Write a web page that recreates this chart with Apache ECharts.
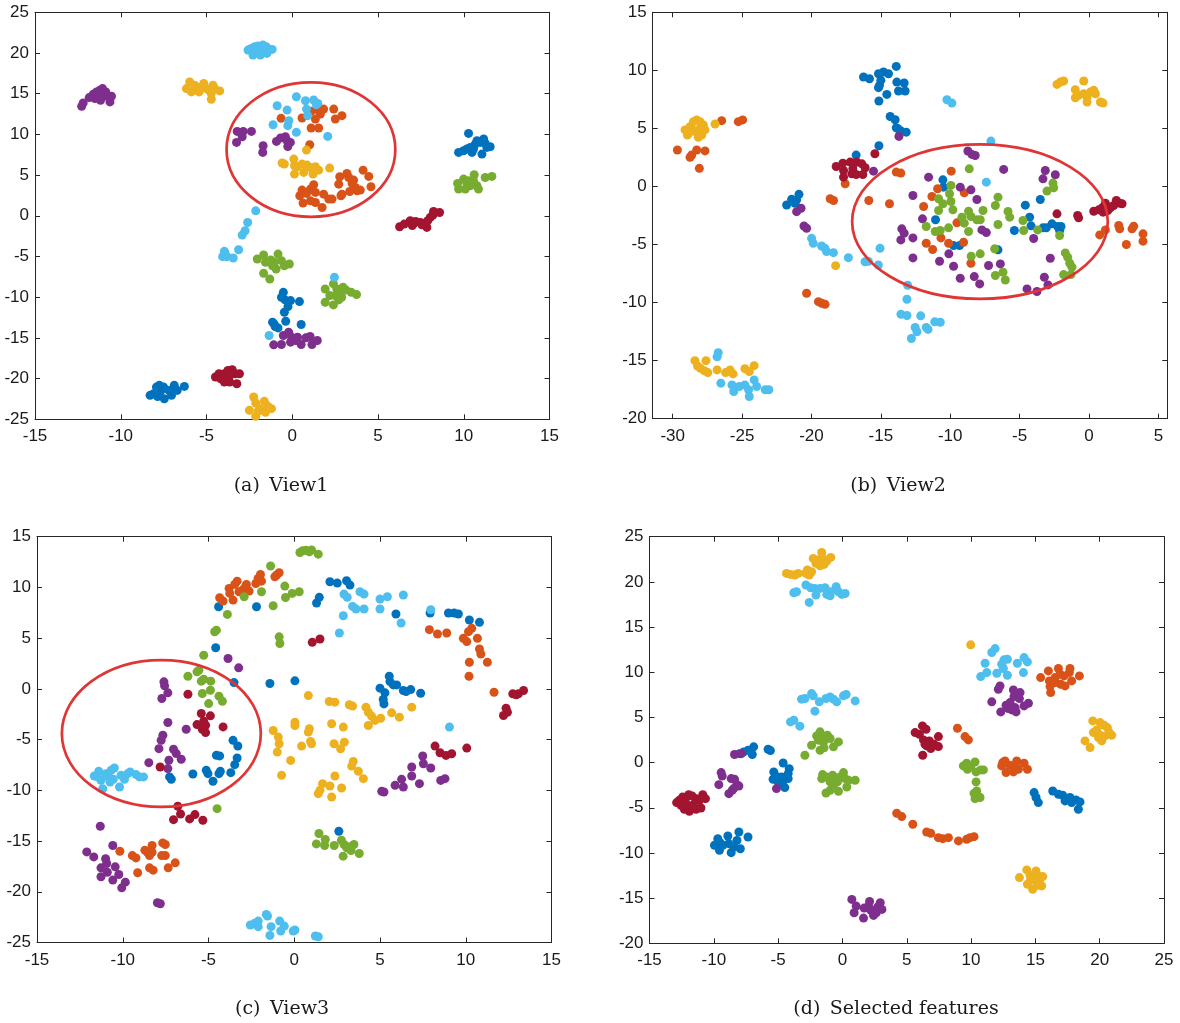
<!DOCTYPE html>
<html>
<head>
<meta charset="utf-8">
<title>t-SNE views</title>
<script src="https://cdn.jsdelivr.net/npm/echarts@6/dist/echarts.min.js"></script>
<style>
  html, body { margin: 0; padding: 0; background: #ffffff; }
  #chart { width: 1180px; height: 1023px; }
</style>
</head>
<body>
<div id="chart"></div>
<script>
// ---- View1 embedding, one array per class ----
const view1Blue = [[10.28,10.12],[9.7,7.79],[9.99,7.99],[10.18,8.2],[10.38,8.4],[10.57,8.2],[10.67,8.81],[10.77,9.22],[10.96,9.02],[11.16,9.43],[11.25,8.89],[11.35,8.4],[11.54,8.48],[11.06,7.58],[10.48,7.79],
  [-0.52,-9.4],[-0.63,-10.01],[-0.42,-10.33],[-0.1,-10.42],[-0.25,-11.15],[-0.46,-11.85],[-0.38,-12.95],[0.42,-10.54],[-1.15,-13.07],[-1.0,-13.6],[-0.83,-13.77],[0.52,-13.36],[-1.05,-13.3],
  [-8.29,-22.06],[-8.08,-21.85],[-7.92,-21.04],[-7.75,-20.83],[-7.5,-21.04],[-7.46,-22.47],[-7.19,-21.45],[-7.04,-22.06],[-6.88,-20.83],[-6.71,-21.45],[-6.29,-20.96],[-7.67,-21.53],[-7.85,-22.2]];
const view1Orange = [[-0.65,11.97],[0.57,12.01],[1.1,12.83],[1.54,12.91],[1.83,13.11],[2.42,13.11],[2.51,11.89],[2.9,12.3],[1.35,11.89],[1.1,10.78],[1.54,10.78],[1.02,8.73],[1.64,12.5],
  [0.44,2.46],[0.57,3.16],[0.83,2.75],[1.06,3.28],[1.25,3.81],[1.35,2.87],[0.63,1.56],[1.06,1.84],[1.35,1.64],[1.74,1.02],[1.83,2.66],[2.13,2.05],[2.32,2.05],[2.77,4.8],[2.71,3.89],[2.9,2.66],[3.19,5.2],[3.29,4.71],[3.49,3.98],[3.58,4.39],[3.68,3.48],[3.78,3.07],[3.97,3.16],[4.13,5.61],[4.46,4.84],[4.59,3.57],[3.35,2.99],[2.84,2.46]];
const view1Yellow = [[-6.17,15.63],[-5.98,16.45],[-5.69,16.04],[-5.59,15.43],[-5.4,15.76],[-5.16,16.25],[-5.01,15.63],[-4.85,15.43],[-4.72,15.02],[-4.62,16.04],[-4.52,15.63],[-4.23,15.34],[-4.72,14.32],[-5.43,15.22],[-5.88,15.22],
  [-0.59,6.48],[-0.46,6.35],[0.09,6.97],[0.13,6.15],[0.28,6.02],[0.57,6.35],[0.86,6.23],[1.06,5.94],[1.35,6.02],[1.54,5.61],[0.67,5.33],[0.13,5.12],[1.21,5.12],[2.18,5.86],[0.83,8.07],
  [-2.25,-22.26],[-2.5,-23.9],[-2.13,-23.0],[-1.88,-23.69],[-1.63,-22.79],[-1.42,-23.41],[-1.21,-23.69],[-1.56,-24.14],[-2.13,-24.63],[-1.98,-23.98]];
const view1Purple = [[-12.28,13.45],[-12.19,13.87],[-11.84,14.52],[-11.6,14.93],[-11.41,15.22],[-11.22,15.43],[-11.06,15.63],[-11.26,14.81],[-11.18,14.19],[-10.93,14.81],[-10.73,14.61],[-10.54,14.69],[-10.63,13.99],[-10.87,15.22],[-11.51,14.4],
  [-3.21,10.37],[-2.86,10.37],[-2.38,10.37],[-3.25,9.02],[-2.92,9.71],[-1.7,8.61],[-1.72,7.79],[-0.92,9.14],[-0.69,9.55],[-0.4,9.71],[-0.3,9.22],[-0.26,8.52],[-0.11,9.02],
  [-1.08,-15.85],[-0.63,-15.81],[-0.52,-14.71],[-0.21,-14.3],[-0.04,-14.91],[0.21,-15.32],[0.31,-14.91],[0.52,-15.81],[0.79,-14.99],[1.04,-14.83],[1.15,-15.81],[1.46,-15.32],[-0.1,-15.52]];
const view1Green = [[9.64,3.98],[9.7,3.28],[9.99,4.51],[10.18,3.98],[10.38,3.69],[10.61,5.04],[10.57,4.3],[10.77,3.69],[10.86,3.28],[11.25,4.71],[11.64,4.84],[10.09,3.28],[10.28,4.3],
  [-2.04,-5.31],[-1.67,-4.82],[-1.56,-5.72],[-1.25,-5.43],[-1.04,-5.72],[-0.83,-4.7],[-0.63,-5.51],[-0.46,-6.13],[-0.17,-5.92],[-0.94,-6.54],[-1.67,-7.07],[-1.31,-7.76],[-1.15,-6.13],
  [1.92,-8.99],[2.4,-8.37],[2.6,-8.99],[2.81,-9.4],[2.96,-8.78],[3.13,-9.11],[2.88,-10.01],[2.19,-9.8],[2.5,-9.8],[1.92,-10.62],[2.4,-10.95],[3.44,-9.4],[3.75,-9.68],[2.71,-10.33]];
const view1Cyan = [[-2.58,20.36],[-2.39,20.56],[-2.19,20.77],[-2.0,20.85],[-1.71,20.97],[-1.52,20.77],[-1.32,20.44],[-1.17,20.44],[-2.29,19.74],[-1.86,19.74],[-1.81,20.36],[-1.48,19.95],[-2.1,20.28],
  [-0.88,13.52],[0.24,14.63],[0.77,14.14],[1.25,14.22],[1.49,13.81],[0.83,13.11],[0.9,12.3],[-0.3,12.99],[-0.2,11.68],[-0.26,11.07],[-1.12,11.19],[0.24,10.25],[2.07,9.75],[1.41,13.65],
  [-2.13,0.61],[-2.6,-0.82],[-2.75,-1.84],[-2.92,-2.37],[-3.92,-4.62],[-4.06,-5.02],[-3.81,-5.02],[-3.44,-5.19],[-3.13,-4.17],[-3.96,-4.37],
  [2.46,-7.56],[-1.35,-14.71]];
const view1DarkRed = [[6.26,-1.35],[6.53,-1.02],[6.88,-0.61],[7.08,-0.94],[7.47,-0.82],[7.85,-1.43],[8.05,-0.2],[8.24,0.53],[8.59,0.41],[7.56,-1.11],[7.0,-1.2],[7.2,-0.7],[7.9,-0.6],[8.2,0.1],[7.7,-0.9],
  [-4.48,-19.81],[-4.27,-19.4],[-3.96,-19.4],[-3.75,-18.99],[-3.5,-18.91],[-3.33,-19.4],[-3.08,-19.4],[-3.23,-20.63],[-3.65,-20.42],[-3.96,-20.42],[-3.69,-19.81],[-4.17,-20.02]];

// ---- View2 embedding ----
const view2Blue = [[-16.25,9.43],[-15.82,9.28],[-15.17,9.71],[-14.81,9.86],[-14.45,9.71],[-13.89,10.34],[-15.0,9.14],[-15.1,8.71],[-15.17,8.51],[-14.57,7.93],[-15.14,7.36],[-13.85,8.99],[-13.32,8.91],[-13.73,8.22],[-13.25,8.22],[-14.33,6.03],[-13.97,5.75],[-13.89,5.06],[-13.61,4.83],[-13.17,4.68],[-13.8,5.0],[-15.14,3.51],[-16.78,2.7],
  [-21.79,-1.6],[-21.43,-1.11],[-21.07,-1.16],[-20.9,-0.68],[-21.19,-1.45],
  [-10.53,0.57],[-10.48,-0.06],[-11.06,-2.87],[-9.76,-5.09],[-9.33,-5.09],[-6.56,-5.46],[-5.38,-3.79],[-4.59,-1.61],[-4.28,-2.64],[-4.18,-3.39],[-3.51,-1.12],[-3.32,-3.56],[-2.67,-3.22],[-3.08,-3.56],[-2.26,-3.45],[-2.02,-3.45],[-2.12,-3.79]];
const view2Orange = [[-29.66,3.14],[-28.63,2.71],[-28.27,3.14],[-27.67,3.06],[-28.08,1.56],[-26.47,5.67],[-25.27,5.58],[-24.96,5.73],[-28.75,2.51],
  [-17.57,0.23],[-13.89,1.24],[-13.56,1.15],[-18.65,-1.06],[-18.41,-1.21],[-15.87,-1.21],[-14.38,-1.49],
  [-20.35,-9.2],[-19.5,-9.92],[-19.26,-10.06],[-19.02,-10.15],
  [-9.93,1.32],[-10.91,-0.2],[-11.32,-0.86],[-8.99,-0.55],[-11.92,-1.72],[-9.52,-3.13],[-10.67,-4.43],[-10.12,-4.89],[-9.04,-4.8],[-11.73,-4.89],[-11.27,-5.43],[-8.51,-6.61],
  [0.77,-4.17],[1.18,-3.74],[2.14,-3.36],[2.21,-3.65],[3.22,-3.42],[3.1,-3.65],[2.69,-5.0],[3.89,-4.08],[3.89,-4.71]];
const view2Yellow = [[-29.11,4.87],[-28.94,4.43],[-28.75,5.15],[-28.51,5.58],[-28.27,5.73],[-28.03,5.58],[-27.79,5.3],[-27.67,4.87],[-27.91,4.43],[-28.15,4.23],[-28.39,4.72],[-28.63,5.0],[-28.87,4.58],[-26.95,5.38],[-28.03,5.0],
  [-2.31,8.79],[-2.07,8.99],[-1.83,9.08],[-0.38,9.08],[-0.99,8.33],[-0.75,7.84],[-0.99,7.64],[-0.38,7.99],[-0.14,7.7],[0.1,8.13],[0.34,8.28],[0.46,7.99],[-0.14,7.27],[0.82,7.27],[1.01,7.18],
  [-18.26,-6.82],
  [-28.4,-15.0],[-28.21,-15.46],[-28.0,-15.66],[-27.6,-15.0],[-27.73,-15.86],[-27.47,-16.03],[-26.8,-15.8],[-26.19,-16.03],[-25.87,-15.8],[-25.65,-16.14],[-24.8,-15.69],[-24.48,-15.94],[-24.13,-15.43]];
const view2Purple = [[-13.7,4.31],[-15.53,1.32],[-21.07,-2.17],[-20.75,-1.88],[-20.54,-3.4],[-20.35,-3.6],
  [-8.73,3.05],[-8.44,2.76],[-8.2,2.67],[-6.15,1.47],[-11.56,0.8],[-12.69,-0.78],[-12.0,-2.79],[-13.49,-3.65],[-13.32,-4.02],[-13.56,-4.6],[-12.69,-4.43],[-9.28,-0.06],[-8.51,-0.29],[-8.08,-1.12],[-7.72,-3.74],[-7.4,-3.97],[-12.69,-6.15],[-10.77,-6.44],[-10.1,-5.8],[-9.76,-6.87],[-9.28,-7.9],[-8.27,-7.76],[-7.88,-8.39],[-7.24,-6.81],[-6.39,-6.67],[-4.47,-8.82],[-3.75,-9.05],[-3.22,-7.82],[-2.79,-6.18],[-3.15,1.38],[-3.32,0.66],[-2.43,1.01],[-3.99,-4.48],[-2.96,-8.48]];
const view2Green = [[-8.63,1.52],[-9.95,0.09],[-10.05,-0.63],[-10.84,-1.06],[-10.53,-1.49],[-9.95,-1.29],[-9.81,-2.01],[-10.84,-2.07],[-11.73,-3.45],[-10.12,-3.56],[-11.08,-3.88],[-10.72,-3.79],[-9.16,-2.64],[-8.99,-3.16],[-8.68,-2.13],[-8.51,-2.59],[-8.08,-2.87],[-7.84,-2.87],[-7.64,-2.07],[-8.68,-3.88],[-6.75,-1.64],[-6.56,-0.92],[-5.84,-2.16],[-5.72,-2.64],[-6.56,-3.28],[-6.8,-5.37],[-7.84,-5.8],[-8.49,-6.01],[-6.75,-7.67],[-6.2,-7.39],[-6.03,-8.05],[-4.76,-2.93],[-4.71,-3.79],[-3.7,-3.74],[-3.03,-0.4],[-2.55,-0.11],[-2.6,0.29],[-2.12,-4.22],[-1.71,-5.72],[-1.54,-6.09],[-1.39,-6.61],[-1.23,-6.95],[-1.83,-7.59],[-1.3,-7.59]];
const view2Cyan = [[-10.24,7.47],[-9.88,7.18],[-7.07,3.91],[-7.4,0.37],
  [-19.99,-4.47],[-19.87,-4.9],[-19.27,-5.13],[-19.03,-5.33],[-18.91,-5.61],[-18.42,-5.7],[-17.34,-6.13],[-16.14,-6.48],[-15.06,-5.33],[-15.18,-6.76],[-15.9,-6.45],
  [-13.07,-8.51],[-13.12,-9.71],[-13.55,-11.0],[-13.12,-11.11],[-12.13,-11.14],[-12.53,-12.14],[-12.4,-12.51],[-12.8,-13.09],[-11.73,-12.14],[-11.6,-12.31],[-11.12,-11.66],[-10.72,-11.69],
  [-26.72,-14.31],[-26.8,-14.66],[-26.53,-16.94],[-25.73,-17.09],[-25.6,-17.66],[-25.2,-17.23],[-24.8,-17.09],[-24.53,-17.51],[-24.48,-18.09],[-24.13,-16.66],[-23.95,-17.23],[-23.33,-17.51],[-23.07,-17.51]];
const view2DarkRed = [[-18.22,1.72],[-17.74,2.01],[-17.69,1.38],[-17.21,2.1],[-16.97,1.95],[-16.73,2.1],[-16.37,1.95],[-16.13,1.61],[-17.02,1.52],[-17.09,1.09],[-17.69,0.8],[-16.3,1.03],[-16.78,1.03],[-15.43,2.82],
  [0.34,-2.13],[0.7,-2.01],[0.94,-1.84],[1.18,-1.44],[1.35,-2.07],[1.54,-1.84],[1.78,-1.64],[1.97,-1.21],[2.21,-1.44],[2.38,-1.49],[1.01,-2.21],[-2.31,-2.36],[-0.82,-2.5],[-0.75,-2.7]];

// ---- View3 embedding ----
const view3Blue = [[-4.41,8.09],[-2.2,8.09],[-4.58,4.05],[-3.51,0.62],[-1.42,0.53],[0.04,0.79],
  [-3.57,-5.07],[-3.29,-5.63],[-4.54,-6.55],[-4.35,-6.61],[-3.33,-6.81],[-3.47,-7.47],[-3.7,-8.26],[-4.31,-8.13],[-4.39,-8.36],[-5.13,-8.03],[-5.03,-8.36],[-5.91,-8.39],[-4.74,-9.11],[-7.27,-8.68],[-7.17,-8.91],
  [1.3,8.46],[1.46,9.02],[2.08,10.56],[2.51,10.43],[3.05,10.66],[3.25,10.23],[5.93,7.38],[7.92,7.48],[8.99,7.48],[9.32,7.48],[9.57,7.38],[10.21,6.79],[10.8,6.56],
  [5.0,0.07],[5.54,1.25],[5.58,0.72],[5.78,0.39],[5.97,0.39],[6.36,-0.16],[6.52,-0.26],[6.79,-0.07],[7.37,-0.43],[5.29,-0.39],[5.19,-1.05],[5.23,-1.48],
  [2.6,-14.03]];
const view3Orange = [[-4.35,8.98],[-4.15,8.65],[-3.8,9.9],[-3.76,9.41],[-3.57,8.75],[-3.47,10.3],[-3.33,10.62],[-3.22,9.57],[-3.02,9.74],[-2.88,9.97],[-2.79,10.3],[-2.63,9.64],[-2.24,10.39],[-2.11,10.89],[-1.97,11.28],[-1.91,10.62],[-1.13,11.05],[-0.88,11.45],[-1.03,11.22],
  [7.88,5.84],[8.35,5.41],[8.89,5.51],[9.86,4.98],[10.06,4.66],[10.16,5.64],[10.35,5.97],[10.68,4.98],[10.8,3.93],[10.88,3.44],[11.26,2.62],[10.21,2.62],[10.19,1.25],[11.65,-0.33],
  [-10.17,-16.0],[-9.44,-16.43],[-9.23,-16.66],[-9.13,-18.13],[-8.71,-15.9],[-8.56,-16.1],[-8.44,-16.43],[-8.29,-16.1],[-8.29,-15.44],[-8.44,-17.64],[-8.23,-17.87],[-7.73,-16.43],[-7.52,-16.43],[-7.52,-15.34],[-7.67,-15.18],[-7.35,-17.64],[-6.94,-17.15]];
const view3Yellow = [[0.82,-0.66],[2.04,-1.25],[2.37,-1.31],[3.21,-1.57],[3.4,-1.7],[4.18,-1.8],[4.32,-2.3],[4.51,-2.69],[4.71,-3.11],[5.04,-2.89],[5.68,-2.36],[6.13,-2.79],[6.85,-1.8],[4.32,-3.61],[0.04,-3.28],[0.04,-3.61],[-1.23,-4.1],[-0.93,-4.75],[-0.88,-5.41],[-0.99,-6.23],[-0.21,-7.05],[-0.74,-8.52],[0.43,-5.64],[0.88,-3.93],[0.82,-4.26],[0.95,-5.18],[1.01,-5.41],[2.18,-3.44],[2.86,-3.77],[2.32,-5.41],[2.7,-5.9],[2.92,-5.25],[3.44,-7.15],[3.35,-7.61],[3.74,-8.13],[4.03,-8.85],[2.37,-8.59],[2.08,-9.57],[2.76,-9.77],[1.65,-9.34],[1.5,-10.0],[1.4,-10.33],[2.18,-10.66]];
const view3Purple = [[-7.6,0.69],[-7.56,0.3],[-7.37,-0.39],[-7.72,-0.95],[-7.37,-3.32],[-6.3,-3.98],[-7.66,-4.57],[-7.76,-5.07],[-7.89,-5.89],[-7.04,-5.95],[-6.88,-6.38],[-6.59,-6.94],[-7.31,-7.04],[-7.37,-7.86],[-8.48,-7.27],[-3.86,2.99],[-3.24,2.07],
  [5.1,-10.1],[5.23,-10.16],[5.88,-9.51],[6.26,-8.92],[6.36,-9.67],[6.85,-7.7],[6.85,-8.59],[7.3,-9.34],[7.49,-6.62],[7.53,-7.38],[7.96,-7.8],[8.54,-9.02],[8.79,-8.85],
  [-11.31,-13.54],[-12.1,-16.07],[-11.69,-16.56],[-11.27,-17.64],[-11.27,-18.52],[-11.0,-16.75],[-10.94,-17.21],[-10.9,-18.07],[-10.58,-15.44],[-10.44,-17.54],[-10.58,-18.85],[-10.23,-18.3],[-10.06,-19.61],[-9.85,-19.05],[-7.98,-21.08],[-7.81,-21.18]];
const view3Green = [[-2.92,9.08],[-1.91,9.57],[-1.38,12.11],[-1.23,8.19],[-0.55,10.13],[-0.51,9.01],[-0.12,9.41],[0.29,9.57],[-3.9,7.34],[-4.64,5.63],[-4.54,5.79],[-0.88,5.13],[-0.84,4.47],[-5.28,3.32],[-5.67,1.68],[-5.56,1.84],[-6.2,1.25],[-5.42,0.76],[-5.28,0.95],[-4.87,0.76],[-5.36,-0.46],[-4.89,-0.13],[-4.39,-0.72],[-4.19,-1.22],[-4.99,-1.45],[-4.5,-11.81],
  [0.33,13.44],[0.49,13.61],[0.68,13.67],[0.88,13.51],[1.01,13.7],[1.4,13.28],
  [1.44,-14.26],[1.29,-15.28],[1.81,-14.85],[1.77,-15.44],[2.33,-15.44],[2.75,-14.92],[2.9,-15.34],[3.06,-15.67],[3.31,-15.93],[3.48,-15.34],[2.85,-16.49],[3.79,-16.23],[3.17,-15.57]];
const view3Cyan = [[-11.66,-8.59],[-11.4,-8.13],[-11.27,-9.01],[-10.97,-8.36],[-10.78,-8.78],[-10.68,-8.03],[-10.49,-7.8],[-10.74,-9.18],[-10.55,-8.91],[-10.19,-9.67],[-10.1,-8.52],[-9.9,-8.91],[-9.71,-8.36],[-9.57,-8.19],[-9.22,-8.45],[-9.03,-8.68],[-8.79,-8.68],[-11.17,-9.84],[-11.46,-8.68],
  [2.9,9.34],[3.09,9.02],[3.83,9.57],[4.07,9.34],[3.4,8.13],[3.6,7.87],[4.07,7.87],[2.86,7.21],[2.63,5.51],[5.0,8.85],[5.43,9.08],[6.36,9.25],[5.0,7.87],[6.23,6.49],[7.96,7.8],
  [9.05,-3.77],
  [-2.56,-23.28],[-2.31,-23.11],[-2.1,-22.89],[-2.1,-23.44],[-1.63,-22.23],[-1.56,-22.39],[-1.35,-23.44],[-1.42,-24.3],[-0.85,-22.89],[-0.79,-23.87],[-0.58,-23.38],[-0.06,-23.87],[0.04,-23.77],[1.23,-24.36],[1.4,-24.43]];
const view3DarkRed = [[-6.2,-0.53],[-5.42,-2.43],[-4.89,-2.66],[-5.67,-3.52],[-5.28,-3.19],[-5.17,-3.59],[-5.36,-3.98],[-5.17,-4.31],[-4.15,-3.75],[-7.82,-7.7],
  [-6.79,-11.57],[-6.63,-12.33],[-7.04,-12.89],[-6.1,-12.82],[-5.79,-12.39],[-5.33,-12.95],
  [1.05,4.59],[1.5,4.92],
  [12.74,-0.49],[12.94,-0.59],[13.07,-0.49],[13.37,-0.16],[12.35,-1.9],[12.2,-2.62],[12.43,-2.3],
  [8.21,-5.64],[8.5,-6.3],[8.85,-6.56],[9.18,-6.39],[10.06,-5.84]];

// ---- Selected-feature embedding ----
const selBlue = [[-8.0,0.99],[-7.68,1.18],[-7.34,1.37],[-6.9,1.74],[-7.01,0.89],[-5.78,1.48],[-5.6,1.33],[-4.61,-0.04],[-4.14,-0.67],[-5.34,-1.03],[-5.18,-1.48],[-5.39,-1.85],[-5.0,-2.14],[-4.66,-2.33],[-4.48,-2.77],[-4.22,-1.77],[-4.74,-1.59],[-4.22,-1.22],
  [-9.95,-9.16],[-9.69,-8.42],[-9.56,-9.71],[-9.3,-9.16],[-8.91,-8.12],[-8.83,-8.97],[-8.65,-9.97],[-8.46,-9.34],[-8.2,-8.61],[-8.05,-7.68],[-7.94,-9.53],[-7.34,-8.23],[-9.51,-8.86],
  [14.9,-3.32],[15.05,-3.87],[15.23,-4.43],[16.35,-3.14],[16.79,-3.51],[17.12,-3.62],[17.31,-4.24],[17.69,-3.87],[17.82,-4.43],[18.16,-4.13],[18.47,-4.35],[18.34,-5.17]];
const selOrange = [[15.41,9.41],[16.01,10.15],[16.09,9.04],[16.14,8.41],[16.19,7.75],[16.53,9.41],[16.79,10.41],[16.92,9.78],[16.97,8.67],[17.23,9.59],[17.31,8.49],[17.64,9.96],[17.69,10.41],[17.82,9.04],[18.42,9.59],[16.53,8.86],
  [8.94,3.8],[9.53,2.88],[9.79,2.51],
  [12.38,-0.37],[12.46,0.0],[12.64,0.18],[12.72,-1.11],[13.03,-0.3],[13.34,-0.44],[13.55,0.18],[13.68,-0.74],[14.12,-0.07],[14.38,-0.74],[13.29,-1.03],
  [4.22,-5.61],[4.61,-5.98],[5.47,-6.83],[6.55,-7.68],[6.87,-7.83],[7.46,-8.31],[7.8,-8.42],[8.24,-8.31],[9.02,-8.67],[9.66,-8.49],[9.92,-8.31],[10.23,-8.2]];
const selYellow = [[-4.35,20.94],[-4.04,20.83],[-3.7,20.75],[-3.44,20.94],[-2.84,20.94],[-2.73,21.31],[-2.58,20.75],[-2.4,21.12],[-2.27,22.6],[-2.06,22.05],[-1.88,22.42],[-1.74,21.79],[-1.61,23.26],[-1.54,22.6],[-1.43,21.93],[-1.22,22.3],[-0.91,22.71],
  [9.97,13.03],
  [18.86,2.4],[19.25,1.66],[19.46,4.61],[19.51,3.32],[19.77,3.62],[19.9,2.77],[20.03,4.43],[20.16,2.4],[20.34,4.13],[20.41,2.95],[20.6,3.87],[20.75,3.32],[20.93,3.03],[20.03,3.03],
  [13.76,-12.73],[14.33,-11.88],[14.59,-12.47],[14.84,-12.99],[15.05,-11.99],[15.23,-12.55],[15.31,-13.21],[15.57,-12.62],[15.49,-13.65],[14.79,-14.02],[14.38,-13.47],[15.16,-13.58],[14.64,-12.92]];
const selPurple = [[-8.39,0.89],[-7.86,0.99],[-9.43,-1.11],[-9.35,-1.48],[-9.61,-2.44],[-8.65,-1.77],[-8.39,-1.85],[-8.2,-2.44],[-8.57,-3.07],[-8.83,-3.44],[-8.46,-2.88],[-8.05,-2.59],[-5.13,-2.88],
  [11.61,6.72],[12.12,8.12],[12.25,8.49],[12.31,5.61],[12.72,6.35],[12.9,5.98],[13.16,5.83],[13.29,8.04],[13.34,7.31],[13.42,6.09],[13.5,5.61],[13.76,7.08],[13.81,7.75],[14.12,6.27],[14.46,6.57],[13.03,6.64],
  [0.73,-15.14],[1.07,-15.88],[0.91,-16.62],[1.64,-17.21],[1.69,-16.1],[2.11,-15.36],[2.21,-16.36],[2.42,-16.91],[2.63,-16.62],[2.73,-15.99],[2.94,-15.51],[3.07,-16.25],[2.03,-15.88]];
const selGreen = [[-2.92,0.81],[-2.4,1.92],[-2.01,2.95],[-1.74,3.4],[-1.61,2.66],[-1.48,2.22],[-1.74,1.37],[-1.17,3.03],[-0.96,2.66],[-0.7,1.74],[-0.31,2.29],[-1.43,1.63],[-1.88,2.48],
  [-1.61,-1.77],[-1.54,-1.33],[-1.22,-1.59],[-0.96,-2.14],[-0.76,-1.4],[-0.57,-1.85],[-0.39,-2.14],[-0.18,-1.59],[0.08,-1.11],[0.21,-1.77],[0.47,-1.96],[0.34,-2.7],[0.99,-1.96],[-1.28,-3.36],[-0.96,-3.07],[-0.31,-3.18],[-0.7,-2.51],
  [9.4,-0.37],[9.66,-0.07],[9.97,-0.44],[10.31,0.07],[10.39,-1.03],[10.75,-0.81],[10.96,-0.81],[9.72,-0.74],[10.39,-2.14],[10.23,-3.4],[10.49,-3.62],[10.7,-3.87],[10.31,-3.99],[10.44,-3.14]];
const selCyan = [[-3.78,18.8],[-3.57,18.91],[-2.84,19.65],[-2.47,19.35],[-2.14,19.28],[-2.06,18.54],[-2.58,17.73],[-1.74,19.28],[-1.35,19.35],[-1.22,18.61],[-0.91,18.91],[-0.49,19.46],[-0.31,18.91],[-0.05,18.61],[0.21,18.72],[-0.96,18.46],
  [-3.18,7.02],[-2.92,7.09],[-2.4,7.64],[-2.27,7.39],[-1.8,6.72],[-1.28,7.09],[-0.96,7.27],[-0.7,7.02],[-0.44,6.72],[0.08,7.39],[0.29,7.53],[0.99,6.83],[-2.14,5.69],[-4.04,4.5],[-3.78,4.69],[-3.31,4.03],
  [10.75,9.52],[11.09,11.0],[11.22,9.96],[11.61,12.18],[11.87,12.62],[12.0,9.89],[12.38,10.89],[12.56,11.37],[12.82,11.44],[12.82,9.67],[12.51,10.41],[13.6,11.0],[14.07,9.96],[14.12,11.62],[14.38,11.14]];
const selDarkRed = [[-12.89,-4.43],[-12.68,-4.17],[-12.42,-3.8],[-12.16,-3.91],[-11.95,-3.55],[-11.69,-3.69],[-11.38,-3.99],[-11.12,-4.17],[-10.86,-3.55],[-10.65,-3.99],[-11.0,-5.02],[-11.38,-5.17],[-11.9,-5.39],[-12.29,-5.17],[-12.55,-4.73],[-12.11,-4.65],[-11.59,-4.65],
  [5.65,3.32],[5.98,3.14],[6.22,4.06],[6.3,2.51],[6.5,3.69],[6.55,1.85],[6.76,2.4],[6.87,1.55],[6.24,0.81],[7.12,2.03],[7.46,2.88],[7.46,1.77],[6.42,2.03]];

// ---- highlighted regions: [centerX, centerY, radiusX, radiusY] in data units ----
const view1Ellipse = [1.09, 8.14, 4.92, 8.26];
const view2Ellipse = [-7.86, -3.03, 9.21, 6.65];
const view3Ellipse = [-7.75, -4.4, 5.8, 7.24];

// ---- tick values ----
const view1XTicks = [-15, -10, -5, 0, 5, 10, 15];
const view1YTicks = [-25, -20, -15, -10, -5, 0, 5, 10, 15, 20, 25];
const view2XTicks = [-30, -25, -20, -15, -10, -5, 0, 5];
const view2YTicks = [-20, -15, -10, -5, 0, 5, 10, 15];
const view3XTicks = [-15, -10, -5, 0, 5, 10, 15];
const view3YTicks = [-25, -20, -15, -10, -5, 0, 5, 10, 15];
const selXTicks = [-15, -10, -5, 0, 5, 10, 15, 20, 25];
const selYTicks = [-20, -15, -10, -5, 0, 5, 10, 15, 20, 25];

// ---- subfigure captions ----
const captions = ['(a)\u2002View1', '(b)\u2002View2', '(c)\u2002View3', '(d)\u2002Selected features'];

// MATLAB default line colour order
const classColors = ['#0072BD', '#D95319', '#EDB120', '#7E2F8E', '#77AC30', '#4DBEEE', '#A2142F'];
const axisColor = '#262626';

const panels = [
  { box: { left: 35, top: 12.3, width: 514.5, height: 407 }, xr: [-15, 15], yr: [-25, 25],
    xt: view1XTicks, yt: view1YTicks, groups: [view1Blue, view1Orange, view1Yellow, view1Purple, view1Green, view1Cyan, view1DarkRed],
    ellipse: view1Ellipse, cap: [281, 486] },
  { box: { left: 652.7, top: 12.3, width: 514.6, height: 406.4 }, xr: [-31.44, 5.64], yr: [-20, 15],
    xt: view2XTicks, yt: view2YTicks, groups: [view2Blue, view2Orange, view2Yellow, view2Purple, view2Green, view2Cyan, view2DarkRed],
    ellipse: view2Ellipse, cap: [898, 486] },
  { box: { left: 37, top: 536.7, width: 514.5, height: 405.8 }, xr: [-15, 15], yr: [-25, 15],
    xt: view3XTicks, yt: view3YTicks, groups: [view3Blue, view3Orange, view3Yellow, view3Purple, view3Green, view3Cyan, view3DarkRed],
    ellipse: view3Ellipse, cap: [282, 1009] },
  { box: { left: 649.5, top: 536.7, width: 514.5, height: 406.6 }, xr: [-15, 25], yr: [-20, 25],
    xt: selXTicks, yt: selYTicks, groups: [selBlue, selOrange, selYellow, selPurple, selGreen, selCyan, selDarkRed],
    ellipse: null, cap: [896, 1009] }
];

function valueAxis(gridIndex, range, ticks, position, showLabels, isX) {
  return {
    type: 'value', gridIndex, min: range[0], max: range[1], position,
    scale: true,
    axisLine: { show: true, onZero: false, lineStyle: { color: axisColor, width: 1 } },
    axisTick: { show: true, inside: true, length: 5, customValues: ticks, lineStyle: { color: axisColor, width: 1 } },
    axisLabel: {
      show: showLabels, customValues: ticks, color: '#1a1a1a', fontSize: 17,
      fontFamily: '"Liberation Sans", Arial, sans-serif', margin: isX ? 9 : 6,
      showMinLabel: true, showMaxLabel: true
    },
    splitLine: { show: false }
  };
}

const grid = [], xAxis = [], yAxis = [], series = [], graphic = [];

panels.forEach((p, i) => {
  grid.push(Object.assign({ containLabel: false, outerBoundsMode: 'none' }, p.box));
  xAxis.push(valueAxis(i, p.xr, p.xt, 'bottom', true, true));
  xAxis.push(valueAxis(i, p.xr, p.xt, 'top', false, true));
  yAxis.push(valueAxis(i, p.yr, p.yt, 'left', true, false));
  yAxis.push(valueAxis(i, p.yr, p.yt, 'right', false, false));

  p.groups.forEach((pts, k) => {
    series.push({
      type: 'scatter', xAxisIndex: 2 * i, yAxisIndex: 2 * i,
      data: pts, symbol: 'circle', symbolSize: 9,
      itemStyle: { color: classColors[k], opacity: 1, borderWidth: 0 },
      emphasis: { disabled: true }, silent: true, z: 2 + k
    });
  });

  if (p.ellipse) {
    series.push({
      type: 'custom', xAxisIndex: 2 * i, yAxisIndex: 2 * i,
      data: [p.ellipse], silent: true, z: 20, clip: false,
      renderItem: function (params, api) {
        const c = api.coord([api.value(0), api.value(1)]);
        const s = api.size([api.value(2), api.value(3)]);
        return {
          type: 'ellipse',
          shape: { cx: c[0], cy: c[1], rx: s[0], ry: s[1] },
          style: { fill: 'none', stroke: '#E03535', lineWidth: 2.7 }
        };
      }
    });
  }

  graphic.push({
    type: 'text', x: p.cap[0], y: p.cap[1], silent: true,
    style: {
      text: captions[i], align: 'center', verticalAlign: 'middle',
      font: '19px "DejaVu Serif", serif', fill: '#1a1a1a'
    }
  });
});

const chart = echarts.init(document.getElementById('chart'), null, { renderer: 'canvas' });
chart.setOption({
  animation: false,
  backgroundColor: '#ffffff',
  grid, xAxis, yAxis, series, graphic
});
</script>
</body>
</html>
